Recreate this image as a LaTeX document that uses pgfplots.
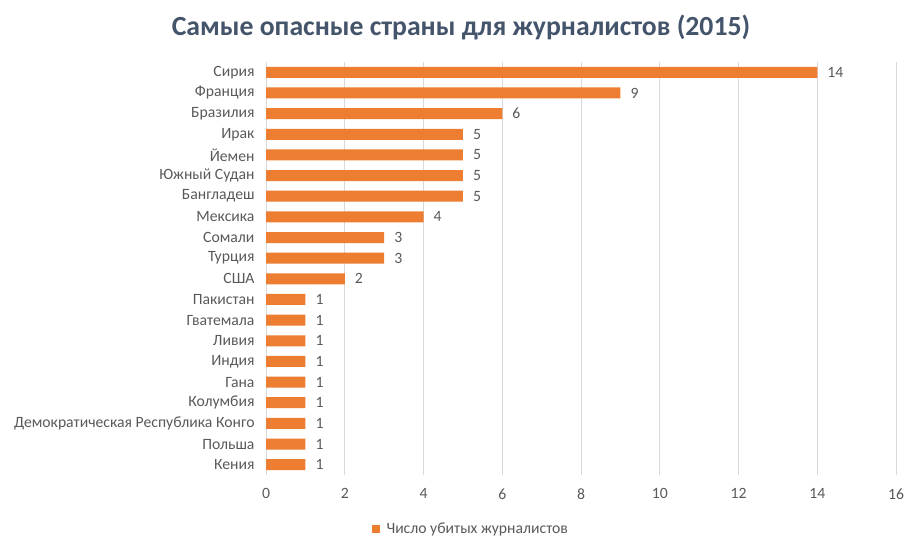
\documentclass[border=0pt]{standalone}
\usepackage{pgfplots}
\pgfplotsset{compat=1.18}
\usepackage{fontspec}
\setmainfont{Carlito}
\definecolor{barorange}{HTML}{ED7D31}
\definecolor{txtgray}{HTML}{595959}
\definecolor{titlecol}{HTML}{44546A}
\definecolor{gridgray}{HTML}{D9D9D9}
\begin{document}
\begin{tikzpicture}[font=\fontsize{15.7bp}{18bp}\selectfont]
\useasboundingbox (0,0) rectangle (915bp,547bp);
\node[font=\fontsize{27.7bp}{32bp}\selectfont\bfseries, text=titlecol] at (461bp,520bp)
  {Самые опасные страны для журналистов (2015)};
\begin{axis}[
  at={(266bp,72bp)}, anchor=south west,
  scale only axis, width=630bp, height=413bp,
  xbar, bar width=11bp,
  xmin=0, xmax=16, xtick={0,2,...,16},
  ymin=-0.5, ymax=19.5, ytick={0,...,19},
  yticklabels={Кения,Польша,Демократическая Республика Конго,Колумбия,Гана,Индия,Ливия,Гватемала,Пакистан,США,Турция,Сомали,Мексика,Бангладеш,Южный Судан,Йемен,Ирак,Бразилия,Франция,Сирия},
  xmajorgrids, grid style={gridgray, line width=0.8pt},
  axis line style={draw=none}, major tick length=0pt,
  tick label style={text=txtgray},
  xticklabel style={yshift=-10bp},
  yticklabel style={xshift=-8bp},
  /pgf/number format/assume math mode=true,
  nodes near coords,
  every node near coord/.append style={text=txtgray, inner sep=0pt, xshift=10bp},
  legend style={at={(0.325,-0.131)}, anchor=center, draw=none, text=txtgray,
    legend cell align=left},
  legend image code/.code={\fill[barorange] (0bp,-4bp) rectangle (8bp,4bp);
    \path (13bp,0bp);},
]
\addplot[fill=barorange, draw=none] coordinates {
  (1,0) (1,1) (1,2) (1,3) (1,4) (1,5) (1,6) (1,7) (1,8) (2,9)
  (3,10) (3,11) (4,12) (5,13) (5,14) (5,15) (5,16) (6,17) (9,18) (14,19)
};
\addlegendentry{Число убитых журналистов}
\end{axis}
\end{tikzpicture}
\end{document}
